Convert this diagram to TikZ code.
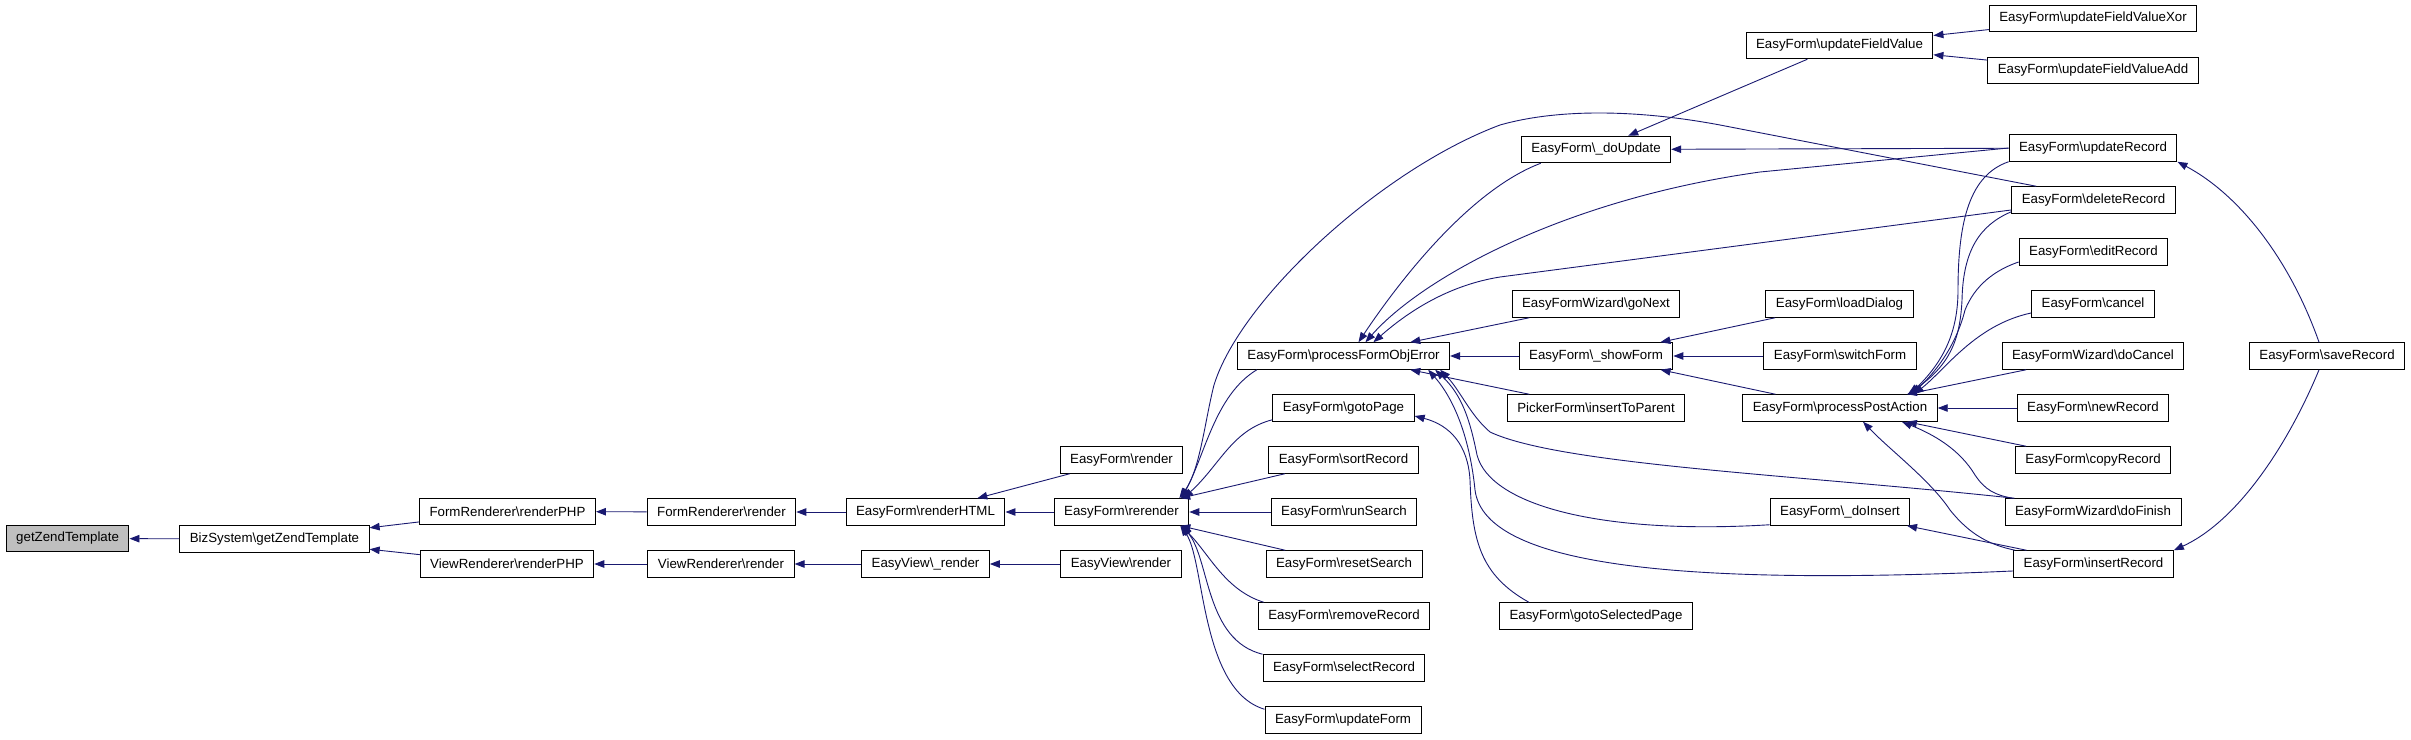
\documentclass[tikz,border=0pt]{standalone}
\usepackage{fontspec}
\setmainfont{Liberation Sans}
\usepackage{xcolor}
\usepackage{tikz}
\usetikzlibrary{arrows.meta}
\definecolor{midnight}{RGB}{25,25,112}

\begin{document}
\begin{tikzpicture}[
    x=1bp, y=-1bp,
    fn/.style={rectangle, draw=black, fill=white, line width=1bp, inner xsep=10bp, inner ysep=0pt, minimum height=26.5bp, font=\fontsize{13.3bp}{16bp}\selectfont},
    focus/.style={fn, fill=black!25},
    call/.style={{Triangle[length=10bp,width=7.5bp]}-, line width=0.9bp, draw=midnight, fill=none}
]
\useasboundingbox (0,0) rectangle (2411,740);

% Columns 1-6: renderer chain
\node[focus] (getzend) at (67.6,538.5) {getZendTemplate};
\node[fn] (bizget) at (274.5,539) {BizSystem\textbackslash{}getZendTemplate};
\node[fn] (frmphp) at (507.5,511.5) {FormRenderer\textbackslash{}renderPHP};
\node[fn] (viewphp) at (507,564) {ViewRenderer\textbackslash{}renderPHP};
\node[fn] (frmrender) at (721.5,512) {FormRenderer\textbackslash{}render};
\node[fn] (viewrender) at (721,564) {ViewRenderer\textbackslash{}render};
\node[fn] (htmlrender) at (925.5,512) {EasyForm\textbackslash{}renderHTML};
\node[fn] (evprivrender) at (925.5,564) {EasyView\textbackslash\_render};
\node[fn] (efrender) at (1121.5,460) {EasyForm\textbackslash{}render};
\node[fn] (efrerender) at (1121.5,512) {EasyForm\textbackslash{}rerender};
\node[fn] (evrender) at (1121,564) {EasyView\textbackslash{}render};

% Column 7: callers of rerender
\node[fn] (pfoerror) at (1343.5,356) {EasyForm\textbackslash{}processFormObjError};
\node[fn] (gotopage) at (1343.5,408) {EasyForm\textbackslash{}gotoPage};
\node[fn] (sortrec) at (1343.5,460) {EasyForm\textbackslash{}sortRecord};
\node[fn] (runsearch) at (1344,512) {EasyForm\textbackslash{}runSearch};
\node[fn] (resetsearch) at (1344,564) {EasyForm\textbackslash{}resetSearch};
\node[fn] (removerec) at (1344,616) {EasyForm\textbackslash{}removeRecord};
\node[fn] (selectrec) at (1344,668) {EasyForm\textbackslash{}selectRecord};
\node[fn] (updform) at (1343,720) {EasyForm\textbackslash{}updateForm};

% Column 8
\node[fn] (doupdate) at (1596,149.5) {EasyForm\textbackslash\_doUpdate};
\node[fn] (gonext) at (1596,304) {EasyFormWizard\textbackslash{}goNext};
\node[fn] (showform) at (1596,356) {EasyForm\textbackslash\_showForm};
\node[fn] (inserttoparent) at (1596,408) {PickerForm\textbackslash{}insertToParent};
\node[fn] (gotoselpage) at (1596,616) {EasyForm\textbackslash{}gotoSelectedPage};

% Column 9
\node[fn] (updfield) at (1839.5,45.5) {EasyForm\textbackslash{}updateFieldValue};
\node[fn] (loaddialog) at (1839.5,304) {EasyForm\textbackslash{}loadDialog};
\node[fn] (switchform) at (1840,356) {EasyForm\textbackslash{}switchForm};
\node[fn] (postaction) at (1840,408) {EasyForm\textbackslash{}processPostAction};
\node[fn] (doinsert) at (1840,512) {EasyForm\textbackslash\_doInsert};

% Column 10
\node[fn] (updfieldxor) at (2093,18.5) {EasyForm\textbackslash{}updateFieldValueXor};
\node[fn] (updfieldadd) at (2093,70.5) {EasyForm\textbackslash{}updateFieldValueAdd};
\node[fn] (updrec) at (2093,148) {EasyForm\textbackslash{}updateRecord};
\node[fn] (delrec) at (2093.5,200) {EasyForm\textbackslash{}deleteRecord};
\node[fn] (editrec) at (2093.5,252) {EasyForm\textbackslash{}editRecord};
\node[fn] (cancel) at (2093,304) {EasyForm\textbackslash{}cancel};
\node[fn] (docancel) at (2093,356) {EasyFormWizard\textbackslash{}doCancel};
\node[fn] (newrec) at (2093,408) {EasyForm\textbackslash{}newRecord};
\node[fn] (copyrec) at (2093,460) {EasyForm\textbackslash{}copyRecord};
\node[fn] (dofinish) at (2093,512) {EasyFormWizard\textbackslash{}doFinish};
\node[fn] (insertrec) at (2093.5,564) {EasyForm\textbackslash{}insertRecord};

% Column 11
\node[fn] (saverec) at (2327,356) {EasyForm\textbackslash{}saveRecord};

% === Calls ===

% renderer chain
\draw[call] (getzend) -- (bizget);
\draw[call] (bizget) -- (frmphp);
\draw[call] (bizget) -- (viewphp);
\draw[call] (frmphp) -- (frmrender);
\draw[call] (viewphp) -- (viewrender);
\draw[call] (frmrender) -- (htmlrender);
\draw[call] (viewrender) -- (evprivrender);
\draw[call] (htmlrender) -- (efrender);
\draw[call] (htmlrender) -- (efrerender);
\draw[call] (evprivrender) -- (evrender);

% into rerender
\draw[call] (efrerender) -- (sortrec);
\draw[call] (efrerender) -- (runsearch);
\draw[call] (efrerender) -- (resetsearch);
\draw[call] ([xshift=-8]efrerender.north east) .. controls (1205,455) and (1215,395) .. ([xshift=20]pfoerror.south west);
\draw[call] ([xshift=-6]efrerender.north east) .. controls (1220,465) and (1232,430) .. ([yshift=2]gotopage.south west);
\draw[call] ([xshift=-10]efrerender.north east) .. controls (1200,470) and (1205,420) .. (1214,385)
    .. controls (1240,300) and (1380,170) .. (1500,125) .. controls (1560,108) and (1640,110) .. (1720,125)
    -- ([xshift=25]delrec.north west);
\draw[call] ([xshift=-8]efrerender.south east) .. controls (1210,555) and (1225,590) .. ([xshift=6]removerec.north west);
\draw[call] ([xshift=-7]efrerender.south east) .. controls (1210,560) and (1205,640) .. (selectrec.north west);
\draw[call] ([xshift=-9]efrerender.south east) .. controls (1205,560) and (1200,690) .. ([yshift=-3]updform.north west);

% into processFormObjError
\draw[call] (pfoerror) -- (gonext);
\draw[call] (pfoerror) -- (showform);
\draw[call] (pfoerror) -- (inserttoparent);
\draw[call] ([xshift=15]pfoerror.north) .. controls (1400,280) and (1470,190) .. ([xshift=20]doupdate.south west);
\draw[call] ([xshift=22]pfoerror.north) .. controls (1420,280) and (1560,200) .. (1760,172) -- (updrec.west);
\draw[call] ([xshift=30]pfoerror.north) .. controls (1410,310) and (1450,285) .. (1500,277) -- ([yshift=-10]delrec.west);
\draw[call] ([xshift=-10]pfoerror.south east) .. controls (1460,390) and (1470,415) .. (1490,432)
    .. controls (1560,465) and (1800,475) .. ([xshift=10]dofinish.north west);
\draw[call] ([xshift=-15]pfoerror.south east) .. controls (1462,395) and (1470,420) .. (1477,455)
    .. controls (1490,505) and (1600,535) .. ([yshift=1]doinsert.south west);
\draw[call] ([xshift=-22]pfoerror.south east) .. controls (1455,400) and (1470,440) .. (1475,490)
    .. controls (1485,570) and (1700,585) .. ([yshift=-7]insertrec.west);
\draw[call] ([yshift=-8]gotopage.east) .. controls (1450,425) and (1468,445) .. (1470,480)
    .. controls (1472,540) and (1480,575) .. ([xshift=30]gotoselpage.north west);

% doUpdate, updateFieldValue, showForm
\draw[call] (doupdate) -- (updrec);
\draw[call] (doupdate) -- (updfield);
\draw[call] (updfield) -- (updfieldxor);
\draw[call] (updfield) -- (updfieldadd);
\draw[call] (showform) -- (loaddialog);
\draw[call] (showform) -- (switchform);
\draw[call] (showform) -- (postaction);

% into processPostAction
\draw[call] ([xshift=-28]postaction.north east) .. controls (1945,360) and (1958,330) .. (1958,290)
    .. controls (1958,220) and (1970,175) .. (updrec.south west);
\draw[call] ([xshift=-30]postaction.north east) .. controls (1950,365) and (1960,340) .. (1962,300)
    .. controls (1963,250) and (1980,225) .. ([yshift=2]delrec.south west);
\draw[call] ([xshift=-26]postaction.north east) .. controls (1948,360) and (1960,330) .. (1965,310)
    .. controls (1975,285) and (1995,270) .. ([yshift=-10]editrec.west);
\draw[call] ([xshift=-24]postaction.north east) .. controls (1945,370) and (1975,325) .. ([yshift=-9]cancel.west);
\draw[call] (postaction) -- (docancel);
\draw[call] (postaction) -- (newrec);
\draw[call] (postaction) -- (copyrec);
\draw[call] ([xshift=-36]postaction.south east) .. controls (1935,435) and (1960,450) .. (1975,475)
    .. controls (1985,490) and (1995,495) .. ([xshift=8]dofinish.north west);
\draw[call] ([xshift=-75]postaction.south east) .. controls (1890,450) and (1930,480) .. (1950,510)
    .. controls (1970,535) and (1990,545) .. ([xshift=2]insertrec.north west);
\draw[call] (doinsert) -- (insertrec);

% saveRecord
\draw[call] (updrec.south east) .. controls (2240,195) and (2290,260) .. ([xshift=-8]saverec.north);
\draw[call] (insertrec.north east) .. controls (2240,520) and (2290,440) .. ([xshift=-8]saverec.south);

\end{tikzpicture}
\end{document}
